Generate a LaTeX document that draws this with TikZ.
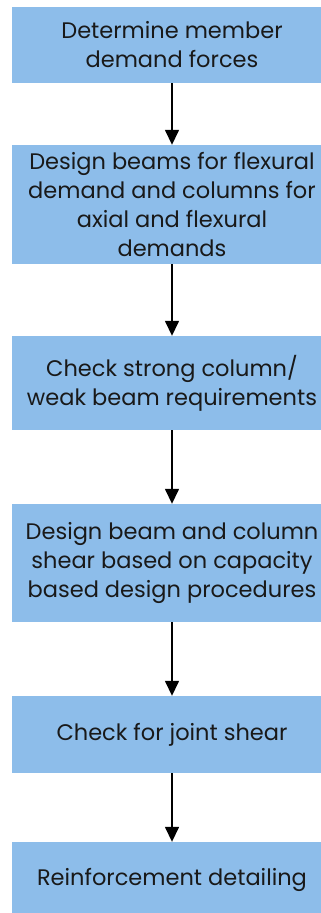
\documentclass[tikz,border=0pt]{standalone}
\usepackage{fontspec}
\setmainfont{Poppins}
\usetikzlibrary{arrows.meta}
\definecolor{boxblue}{RGB}{141,189,234}
\definecolor{txt}{RGB}{25,25,25}
\tikzset{
  stepbox/.style={rectangle, fill=boxblue, draw=none, minimum width=320pt, inner sep=0pt,
    align=center, text=txt, font=\fontsize{22.5pt}{29pt}\selectfont},
  flow/.style={line width=1.5pt, -{Triangle[width=14pt,length=15pt]}}
}
\begin{document}
\begin{tikzpicture}[x=1pt,y=1pt]
\useasboundingbox (0,0) rectangle (321,-913);
\begin{scope}
\clip (0,0) rectangle (321,-913);
\node[stepbox, minimum height=76pt]  (b1) at (172,-45)    {Determine member\\demand forces};
\node[stepbox, minimum height=119pt] (b2) at (172,-204.5) {Design beams for flexural\\demand and columns for\\axial and flexural\\demands};
\node[stepbox, minimum height=94pt]  (b3) at (172,-383)   {Check strong column/\\weak beam requirements};
\node[stepbox, minimum height=118pt] (b4) at (172,-563)   {Design beam and column\\shear based on capacity\\based design procedures};
\node[stepbox, minimum height=77pt]  (b5) at (172,-734.5) {Check for joint shear};
\node[stepbox, minimum height=76pt]  (b6) at (172,-880)   {Reinforcement detailing};
\draw[flow] (b1.south) -- (b2.north);
\draw[flow] (b2.south) -- (b3.north);
\draw[flow] (b3.south) -- (b4.north);
\draw[flow] (b4.south) -- (b5.north);
\draw[flow] (b5.south) -- (b6.north);
\end{scope}
\end{tikzpicture}
\end{document}
